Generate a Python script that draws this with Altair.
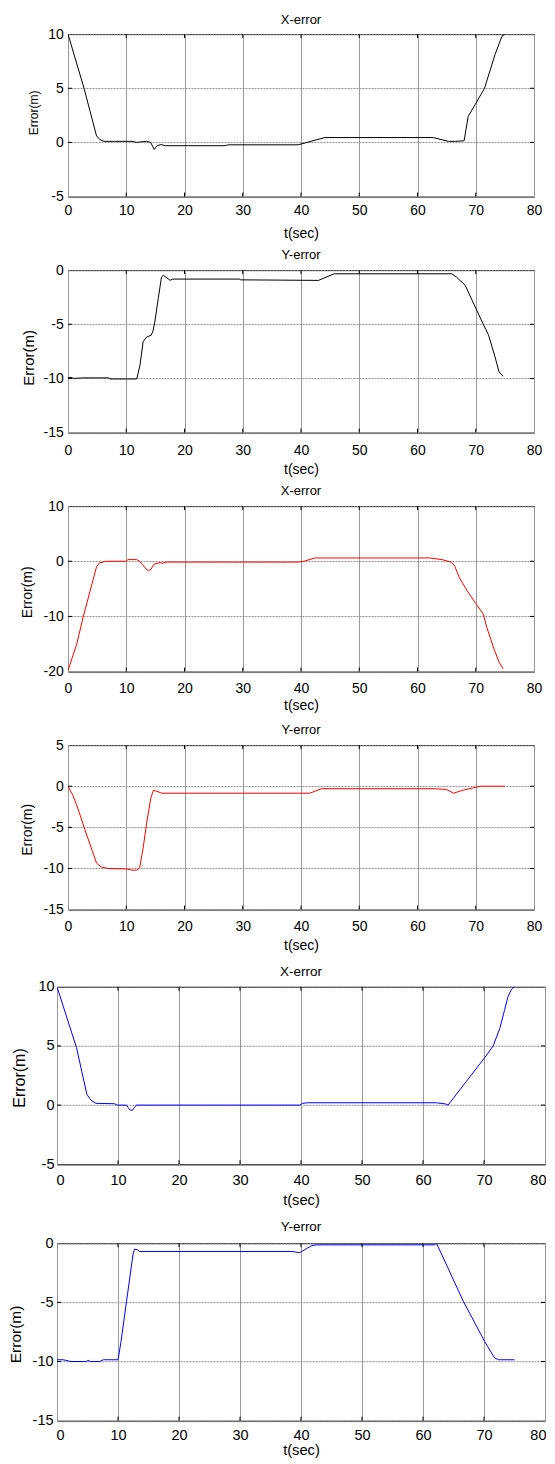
import altair as alt
import pandas as pd

FONT = "Liberation Sans"
X_TICKS = [0, 10, 20, 30, 40, 50, 60, 70, 80]

# ---- Panel 1: X-error (black)
p1_t = [0, 2.75, 4.9, 5.5, 6.2, 8, 11, 11.8, 12.4, 13.5, 14.2, 14.8, 15.3, 16.0, 16.7, 27.0, 27.5,
        39.5, 44.1, 62.7, 65.3, 66.5, 68.0, 68.7, 69.9, 71.5, 73.3, 74.5, 75.0]
p1_v = [10, 5.0, 0.6, 0.25, 0.1, 0.1, 0.1, 0.0, 0.05, 0.1, 0.0, -0.65, -0.3, -0.2, -0.3, -0.3, -0.22,
        -0.22, 0.45, 0.45, 0.1, 0.1, 0.15, 2.4, 3.5, 5.0, 8.1, 9.8, 10.0]
p1_yticks = [-5, 0, 5, 10]

# ---- Panel 2: Y-error (black)
p2_t = [0, 0.5, 1.0, 2.5, 7.0, 7.2, 11.8, 12.35, 12.9, 13.45, 14.3, 14.6, 14.9, 15.5, 16.05, 16.35,
        16.95, 17.5, 18.0, 29.5, 29.6, 43.0, 45.7, 65.9, 66.7, 68.2, 69.9, 71.3, 72.2, 73.3, 74.0, 74.7]
p2_v = [-9.95, -9.9, -10.0, -9.95, -9.95, -10.05, -10.05, -8.8, -6.6, -6.2, -6.0, -5.6, -4.8, -2.6,
        -0.64, -0.49, -0.7, -0.94, -0.83, -0.83, -0.9, -0.95, -0.34, -0.34, -0.65, -1.41, -3.4, -5.0,
        -6.0, -8.0, -9.4, -9.8]
p2_yticks = [-15, -10, -5, 0]

# ---- Panel 3: X-error (red)
p3_t = [0, 1.5, 2.63, 4.9, 5.4, 6.5, 10.0, 10.3, 11.8, 12.3, 12.8, 13.4, 13.8, 14.2, 14.8, 15.3, 15.8,
        16.3, 16.8, 39.5, 40.5, 42.4, 62.1, 64.2, 65.9, 66.4, 67.2, 68.5, 69.9, 71.3, 71.9, 73.0, 74.0, 74.7]
p3_v = [-19.8, -15.0, -10.0, -1.0, -0.3, 0.0, 0.0, 0.3, 0.3, 0.0, -0.6, -1.4, -1.7, -1.5, -0.5, -0.4,
        -0.25, -0.35, -0.15, -0.15, 0.0, 0.6, 0.6, 0.3, -0.2, -0.9, -3.0, -5.3, -7.5, -9.6, -12.0,
        -15.5, -18.3, -19.5]
p3_yticks = [-20, -10, 0, 10]

# ---- Panel 4: Y-error (red)
p4_t = [0, 0.9, 1.77, 2.9, 4.0, 4.9, 5.8, 7.0, 10.0, 11.0, 11.8, 12.3, 12.9, 13.5, 14.2, 14.65, 15.2,
        16.1, 41.5, 43.5, 63.0, 65.0, 66.2, 67.7, 69.9, 70.8, 75.0]
p4_v = [0, -1.2, -2.85, -5.3, -7.5, -9.35, -9.85, -10.0, -10.05, -10.2, -10.2, -9.9, -7.5, -4.5, -1.5,
        -0.5, -0.6, -0.85, -0.85, -0.3, -0.3, -0.4, -0.85, -0.5, -0.15, 0.0, 0.0]
p4_yticks = [-15, -10, -5, 0, 5]

# ---- Panel 5: X-error (blue)
p5_t = [0, 3.2, 4.9, 5.6, 6.4, 9.4, 9.9, 11.4, 11.8, 12.0, 12.4, 12.7, 13.0, 39.8, 40.2, 41.1, 62.2,
        63.7, 64.1, 67.1, 70.1, 71.5, 72.6, 73.4, 73.9, 74.5, 75.0]
p5_v = [10, 4.85, 0.9, 0.4, 0.15, 0.12, 0.0, 0.0, -0.3, -0.42, -0.42, -0.2, 0.0, 0.0, 0.15, 0.2, 0.2,
        0.1, 0.0, 2.0, 4.0, 5.0, 6.5, 8.1, 9.1, 9.8, 10.0]
p5_yticks = [-5, 0, 5, 10]

# ---- Panel 6: Y-error (blue)
p6_t = [0, 1.0, 2.3, 4.8, 5.1, 5.5, 7.0, 7.6, 10.0, 10.5, 11.4, 12.45, 12.7, 13.2, 13.5, 38.5, 39.8,
        41.7, 42.6, 61.9, 62.2, 64.1, 66.6, 70.1, 71.75, 72.4, 75.0]
p6_v = [-9.85, -9.85, -10.0, -10.0, -9.9, -10.0, -10.0, -9.85, -9.85, -8.3, -4.9, -1.0, -0.5, -0.55,
        -0.7, -0.7, -0.8, -0.22, -0.14, -0.14, 0.0, -2.1, -4.9, -8.3, -9.7, -9.85, -9.85]
p6_yticks = [-15, -10, -5, 0]


def panel(t, v, color, title, ydom, yticks, w, h, fs_tick, fs_ytitle, fs_title, fs_xtitle,
          ytitle_x, xlab_pad, ylab_pad, xtitle_y, title_off, ytitle_dy, flush):
    df = pd.DataFrame({"t": t, "v": v})
    xs = alt.Scale(domain=[0, 80], nice=False, zero=False)
    ys = alt.Scale(domain=ydom, nice=False, zero=False)
    xaxis = alt.Axis(values=X_TICKS, title="t(sec)", grid=True, gridColor="#9a9a9a", gridWidth=1,
                     domain=False, ticks=False, tickSize=0, labelFont=FONT, labelFontSize=fs_tick,
                     labelColor="black", labelPadding=xlab_pad, labelFlush=flush,
                     labelFlushOffset=1, labelOverlap=False,
                     labelBaseline="top", labelExpr="'' + datum.value",
                     titleFont=FONT, titleFontSize=fs_xtitle, titleFontWeight="normal",
                     titleColor="black", titleY=xtitle_y, titleX=w / 2, titleBaseline="middle")
    yaxis = alt.Axis(values=yticks, title="Error(m)", grid=True, gridColor="#8a8a8a", gridWidth=1,
                     gridDash=[2, 1], domain=False, ticks=False, tickSize=0, labelFont=FONT,
                     labelFontSize=fs_tick, labelColor="black", labelPadding=ylab_pad,
                     labelFlush=False, labelOverlap=False, labelExpr="'' + datum.value",
                     titleFont=FONT, titleFontSize=fs_ytitle, titleFontWeight="normal",
                     titleColor="black", titleX=ytitle_x, titleY=h / 2 + ytitle_dy,
                     titleBaseline="middle")
    line = alt.Chart(df).mark_line(color=color, strokeWidth=1, clip=True).encode(
        x=alt.X("t:Q", scale=xs, axis=xaxis),
        y=alt.Y("v:Q", scale=ys, axis=yaxis),
    )
    xt = pd.DataFrame({"t": X_TICKS[1:-1]})
    yt = pd.DataFrame({"v": yticks[1:-1]})
    top = alt.Chart(xt).mark_rule(color="black", strokeWidth=1).encode(
        x=alt.X("t:Q", scale=xs, axis=xaxis), y=alt.value(0), y2=alt.value(4))
    bot = alt.Chart(xt).mark_rule(color="black", strokeWidth=1).encode(
        x=alt.X("t:Q", scale=xs, axis=xaxis), y=alt.value(h), y2=alt.value(h - 4))
    left = alt.Chart(yt).mark_rule(color="black", strokeWidth=1).encode(
        y=alt.Y("v:Q", scale=ys, axis=yaxis), x=alt.value(0), x2=alt.value(4))
    right = alt.Chart(yt).mark_rule(color="black", strokeWidth=1).encode(
        y=alt.Y("v:Q", scale=ys, axis=yaxis), x=alt.value(w), x2=alt.value(w - 4))
    ttl = alt.Chart(pd.DataFrame({"label": [title]})).mark_text(
        font=FONT, fontSize=fs_title, color="black", baseline="alphabetic", align="center"
    ).encode(text="label:N", x=alt.value(w / 2), y=alt.value(-title_off))
    return alt.layer(line, top, bot, left, right, ttl).properties(width=w, height=h)


W1, W2 = 466, 488
p1 = panel(p1_t, p1_v, "#000000", "X-error", [-5, 10], p1_yticks, W1, 162.5, 14, 12, 13, 14,
           -35, 6.8, 4.7, 36.5, 10, -3, False)
p2 = panel(p2_t, p2_v, "#000000", "Y-error", [-15, 0], p2_yticks, W1, 162.5, 14, 15, 13, 14,
           -40, 11.2, 4.7, 36.5, 11.5, 6, False)
p3 = panel(p3_t, p3_v, "#ff0000", "X-error", [-20, 10], p3_yticks, W1, 165.5, 14, 14, 13, 14,
           -41, 10.1, 4.7, 34, 11, 3, False)
p4 = panel(p4_t, p4_v, "#ff0000", "Y-error", [-15, 5], p4_yticks, W1, 164.5, 14, 14, 13, 14,
           -41, 10.2, 4.7, 35.9, 11, 2, False)
p5 = panel(p5_t, p5_v, "#0000ff", "X-error", [-5, 10], p5_yticks, W2, 177.5, 14.5, 16, 13.5, 14.7,
           -37.3, 9.4, 3.0, 36.5, 10.7, 2, True)
p6 = panel(p6_t, p6_v, "#0000ff", "Y-error", [-15, 0], p6_yticks, W2, 177.5, 14.5, 15.5, 13.5, 14.7,
           -41.3, 8.1, 4.0, 30, 11.7, 2, True)

spacer = alt.Chart(pd.DataFrame({"a": [0]})).mark_point(opacity=0, size=0).encode(
    x=alt.value(0), y=alt.value(0)
).properties(width=10.7, height=1, view=alt.ViewBackground(strokeOpacity=0, strokeWidth=0))

vc1 = alt.vconcat(p1, p2, p3, p4, spacing=73, bounds="flush")
top_block = alt.hconcat(spacer, vc1, spacing=0, bounds="flush")
vc2 = alt.vconcat(p5, p6, spacing=78.4, bounds="flush")

chart = alt.vconcat(top_block, vc2, spacing=952.7, bounds="flush").properties(
    padding={"left": 0, "top": 5.1, "right": -1, "bottom": 0}
).configure_view(stroke="black", strokeWidth=1, fill="white")

chart.save("out.html", embed_options={"renderer": "svg", "actions": False})
